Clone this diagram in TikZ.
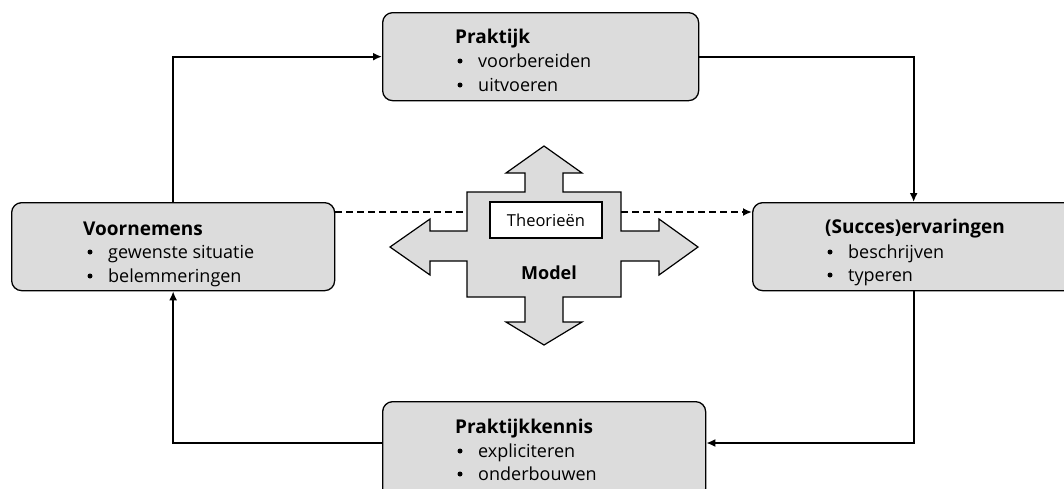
\documentclass[tikz,border=0pt]{standalone}
\usepackage{fontspec}
\setmainfont{Open Sans}
\usetikzlibrary{arrows.meta}
\definecolor{boxgray}{RGB}{220,220,220}
\begin{document}
\begin{tikzpicture}[x=1pt,y=-1pt,
  box/.style={draw, line width=1.3pt, fill=boxgray, rounded corners=10pt, inner sep=0pt, anchor=north west},
  conn/.style={line width=1.8pt, -{Latex[length=9pt,width=8pt]}},
  dashline/.style={line width=1.8pt, dash pattern=on 7pt off 4pt},
  ttl/.style={anchor=base west, inner sep=0pt, font=\fontsize{19}{22}\selectfont\bfseries},
  itm/.style={anchor=base west, inner sep=0pt, font=\fontsize{18}{21}\selectfont},
  bul/.style={circle, fill=black, inner sep=0pt, minimum size=5pt}]
\useasboundingbox (0,0) rectangle (1064,488);
\clip (0,0) rectangle (1064,488);
\fill[white] (0,0) rectangle (1064,488);

% boxes
\node[box, minimum width=316pt, minimum height=88pt] (prak) at (382,12) {};
\node[box, minimum width=323pt, minimum height=88pt] (voor) at (11,202) {};
\node[box, minimum width=322pt, minimum height=88pt] (succ) at (752,202) {};
\node[box, minimum width=323pt, minimum height=97pt] (kenn) at (382,401) {};

% texts
\node[ttl] (prak-t) at (455,43) {Praktijk};
\node[bul] (prak-b1) at (460,61) {};
\node[itm] (prak-i1) at (478,67) {voorbereiden};
\node[bul] (prak-b2) at (460,85) {};
\node[itm] (prak-i2) at (478,91) {uitvoeren};

\node[ttl] (voor-t) at (83,235) {Voornemens};
\node[bul] (voor-b1) at (90,252) {};
\node[itm] (voor-i1) at (108,258) {gewenste situatie};
\node[bul] (voor-b2) at (90,276) {};
\node[itm] (voor-i2) at (108,282) {belemmeringen};

\node[ttl] (succ-t) at (825,233) {(Succes)ervaringen};
\node[bul] (succ-b1) at (830,252) {};
\node[itm] (succ-i1) at (848,258) {beschrijven};
\node[bul] (succ-b2) at (830,275) {};
\node[itm] (succ-i2) at (848,281) {typeren};

\node[ttl] (kenn-t) at (455,433) {Praktijkkennis};
\node[bul] (kenn-b1) at (460,451) {};
\node[itm] (kenn-i1) at (478,457) {expliciteren};
\node[bul] (kenn-b2) at (460,474) {};
\node[itm] (kenn-i2) at (478,480) {onderbouwen};

% central cross
\draw[line width=1.2pt, fill=boxgray]
 (544,146) -- (582,173) -- (563,173) -- (563,192) -- (621,192) -- (621,231) -- (659,231) -- (659,219) -- (698,247)
 -- (659,275) -- (659,261) -- (621,261) -- (621,297) -- (563,297) -- (563,322) -- (582,322) -- (544,345)
 -- (506,322) -- (525,322) -- (525,297) -- (467,297) -- (467,261) -- (430,261) -- (430,275) -- (390,247)
 -- (430,219) -- (430,231) -- (467,231) -- (467,192) -- (525,192) -- (525,173) -- (506,173) -- cycle;
\node[inner sep=0pt, minimum width=154pt, minimum height=105pt] (core) at (544,244.5) {};
\node[draw, line width=1.2pt, fill=white, minimum width=112pt, minimum height=36pt, inner sep=0pt,
      font=\fontsize{16.5}{19}\selectfont] (theo) at (546,220) {Theorieën};
\node[inner sep=0pt, font=\fontsize{18}{21}\selectfont\bfseries] (model) at (549,273) {Model};

% connectors
\coordinate (kennR) at ([yshift=-42pt]kenn.north east);
\coordinate (kennL) at ([yshift=-42pt]kenn.north west);
\coordinate (voorD) at ([yshift=-10pt]voor.north east);
\draw[conn] (voor.north) |- (prak.west);
\draw[conn] (prak.east) -| (succ.north);
\draw[conn] (succ.south) |- (kennR);
\draw[conn] (kennL) -| (voor.south);
\draw[dashline] (voorD) -- (voorD -| core.west);
\draw[dashline, -{Latex[length=9pt,width=8pt]}] (voorD -| core.east) -- (voorD -| succ.west);
\end{tikzpicture}
\end{document}
